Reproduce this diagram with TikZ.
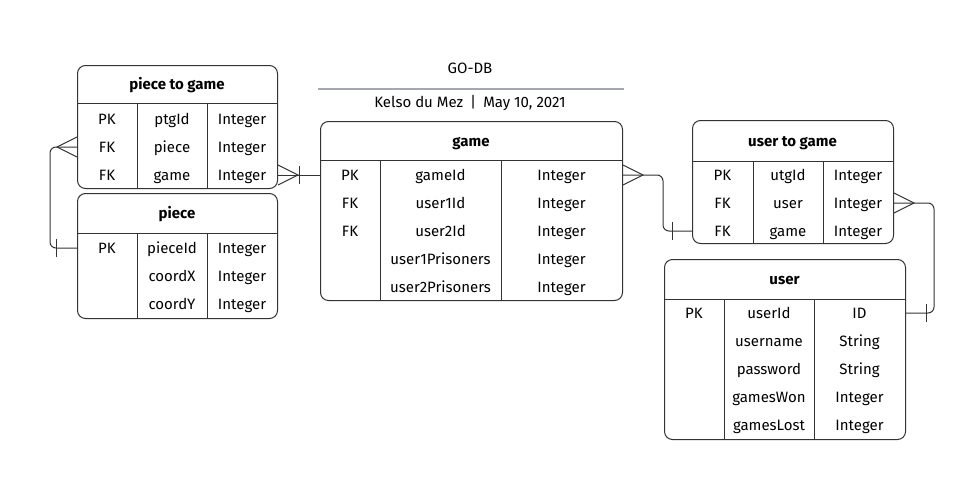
\documentclass[tikz,border=0pt]{standalone}
\usepackage{fontspec}
\setmainfont{Fira Sans}
\usetikzlibrary{calc}
\definecolor{linec}{HTML}{333333}
\definecolor{rulec}{HTML}{A3A7B8}
\begin{document}
\begin{tikzpicture}[x=1pt,y=-1pt,
  font=\fontsize{15}{17}\selectfont,
  tbl/.style={draw=linec, line width=1pt, rounded corners=8pt, inner sep=0pt, anchor=north west},
  grid/.style={draw=linec, line width=1pt},
  conn/.style={draw=linec, line width=1pt, rounded corners=6pt},
  endmark/.style={draw=linec, line width=1pt},
  cell/.style={anchor=base, inner sep=0pt, text=black},
  head/.style={anchor=base, inner sep=0pt, font=\fontsize{15}{17}\selectfont\bfseries}]
\useasboundingbox (0,0) rectangle (973,479);

% title
\node[cell] (title) at (470,73.5) {GO-DB};
\draw[rulec, line width=1.6pt] (318,89) -- (624,89);
\node[cell] (author) at (470,107.5) {Kelso du Mez\hspace{7pt}|\hspace{7pt}May 10, 2021};

% ---------- piece to game ----------
\node[tbl, minimum width=200pt, minimum height=123pt] (ptg) at (77,65) {};
\draw[grid] (77,103) -- (277,103) (137,103) -- (137,188) (207,103) -- (207,188);
\node[head] (ptg-h) at (177,89.5) {piece to game};
\coordinate (ptg-r1) at (0,119); \coordinate (ptg-r2) at (0,147); \coordinate (ptg-r3) at (0,175);
\node[cell] (ptg-k1) at (107,124.5) {PK}; \node[cell] (ptg-n1) at (172,124.5) {ptgId}; \node[cell] (ptg-t1) at (242,124.5) {Integer};
\node[cell] (ptg-k2) at (107,152.5) {FK}; \node[cell] (ptg-n2) at (172,152.5) {piece}; \node[cell] (ptg-t2) at (242,152.5) {Integer};
\node[cell] (ptg-k3) at (107,180.5) {FK}; \node[cell] (ptg-n3) at (172,180.5) {game}; \node[cell] (ptg-t3) at (242,180.5) {Integer};

% ---------- piece ----------
\node[tbl, minimum width=200pt, minimum height=125pt] (piece) at (77,193) {};
\draw[grid] (77,233) -- (277,233) (137,233) -- (137,318) (207,233) -- (207,318);
\node[head] (piece-h) at (177,218.5) {piece};
\coordinate (piece-r1) at (0,248);
\node[cell] (piece-k1) at (107,253.5) {PK}; \node[cell] (piece-n1) at (172,253.5) {pieceId}; \node[cell] (piece-t1) at (242,253.5) {Integer};
\node[cell] (piece-n2) at (172,281.5) {coordX}; \node[cell] (piece-t2) at (242,281.5) {Integer};
\node[cell] (piece-n3) at (172,309.5) {coordY}; \node[cell] (piece-t3) at (242,309.5) {Integer};

% ---------- game ----------
\node[tbl, minimum width=302pt, minimum height=179pt] (game) at (320,121) {};
\draw[grid] (320,160) -- (622,160) (380,160) -- (380,300) (501,160) -- (501,300);
\node[head] (game-h) at (471,146.5) {game};
\coordinate (game-r1) at (0,175);
\node[cell] (game-k1) at (350,180.5) {PK}; \node[cell] (game-n1) at (440.5,180.5) {gameId}; \node[cell] (game-t1) at (561.5,180.5) {Integer};
\node[cell] (game-k2) at (350,208.5) {FK}; \node[cell] (game-n2) at (440.5,208.5) {user1Id}; \node[cell] (game-t2) at (561.5,208.5) {Integer};
\node[cell] (game-k3) at (350,236.5) {FK}; \node[cell] (game-n3) at (440.5,236.5) {user2Id}; \node[cell] (game-t3) at (561.5,236.5) {Integer};
\node[cell] (game-n4) at (440.5,264.5) {user1Prisoners}; \node[cell] (game-t4) at (561.5,264.5) {Integer};
\node[cell] (game-n5) at (440.5,292.5) {user2Prisoners}; \node[cell] (game-t5) at (561.5,292.5) {Integer};

% ---------- user to game ----------
\node[tbl, minimum width=201pt, minimum height=123pt] (utg) at (692,120) {};
\draw[grid] (692,161) -- (893,161) (753,161) -- (753,243) (823,161) -- (823,243);
\node[head] (utg-h) at (792.5,146.5) {user to game};
\coordinate (utg-r2) at (0,203); \coordinate (utg-r3) at (0,231);
\node[cell] (utg-k1) at (722.5,180.5) {PK}; \node[cell] (utg-n1) at (788,180.5) {utgId}; \node[cell] (utg-t1) at (858,180.5) {Integer};
\node[cell] (utg-k2) at (722.5,208.5) {FK}; \node[cell] (utg-n2) at (788,208.5) {user}; \node[cell] (utg-t2) at (858,208.5) {Integer};
\node[cell] (utg-k3) at (722.5,236.5) {FK}; \node[cell] (utg-n3) at (788,236.5) {game}; \node[cell] (utg-t3) at (858,236.5) {Integer};

% ---------- user ----------
\node[tbl, minimum width=241pt, minimum height=180pt] (user) at (664,259) {};
\draw[grid] (664,299) -- (905,299) (724,299) -- (724,439) (814,299) -- (814,439);
\node[head] (user-h) at (784.5,284.5) {user};
\coordinate (user-r1) at (0,313);
\node[cell] (user-k1) at (694,318.5) {PK}; \node[cell] (user-n1) at (769,318.5) {userId}; \node[cell] (user-t1) at (859.5,318.5) {ID};
\node[cell] (user-n2) at (769,346.5) {username}; \node[cell] (user-t2) at (859.5,346.5) {String};
\node[cell] (user-n3) at (769,374.5) {password}; \node[cell] (user-t3) at (859.5,374.5) {String};
\node[cell] (user-n4) at (769,402.5) {gamesWon}; \node[cell] (user-t4) at (859.5,402.5) {Integer};
\node[cell] (user-n5) at (769,430.5) {gamesLost}; \node[cell] (user-t5) at (859.5,430.5) {Integer};

% ---------- connectors ----------
% piece to game (game) -> game (gameId)
\draw[conn] (ptg.east |- ptg-r3) -- (game.west |- game-r1);
\draw[endmark] ($(ptg.east |- ptg-r3)+(0,-10)$) -- ($(ptg.east |- ptg-r3)+(20,0)$) -- ($(ptg.east |- ptg-r3)+(0,10)$);
\draw[endmark] ($(game.west |- game-r1)+(-21,-9)$) -- ($(game.west |- game-r1)+(-21,9)$);

% piece to game (piece) -> piece (pieceId)
\draw[conn] (ptg.west |- ptg-r2) -- ++(-27,0) |- (piece.west |- piece-r1);
\draw[endmark] ($(ptg.west |- ptg-r2)+(0,-10)$) -- ($(ptg.west |- ptg-r2)+(-20,0)$) -- ($(ptg.west |- ptg-r2)+(0,10)$);
\draw[endmark] ($(piece.west |- piece-r1)+(-21,-9)$) -- ($(piece.west |- piece-r1)+(-21,9)$);

% game (gameId) -> user to game (game)
\draw[conn] (game.east |- game-r1) -- ++(40,0) |- (utg.west |- utg-r3);
\draw[endmark] ($(game.east |- game-r1)+(0,-10)$) -- ($(game.east |- game-r1)+(20,0)$) -- ($(game.east |- game-r1)+(0,10)$);
\draw[endmark] ($(utg.west |- utg-r3)+(-20,-9)$) -- ($(utg.west |- utg-r3)+(-20,9)$);

% user to game (user) -> user (userId)
\draw[conn] (utg.east |- utg-r2) -- ++(40,0) |- (user.east |- user-r1);
\draw[endmark] ($(utg.east |- utg-r2)+(0,-10)$) -- ($(utg.east |- utg-r2)+(20,0)$) -- ($(utg.east |- utg-r2)+(0,10)$);
\draw[endmark] ($(user.east |- user-r1)+(20,-9)$) -- ($(user.east |- user-r1)+(20,9)$);
\end{tikzpicture}
\end{document}
